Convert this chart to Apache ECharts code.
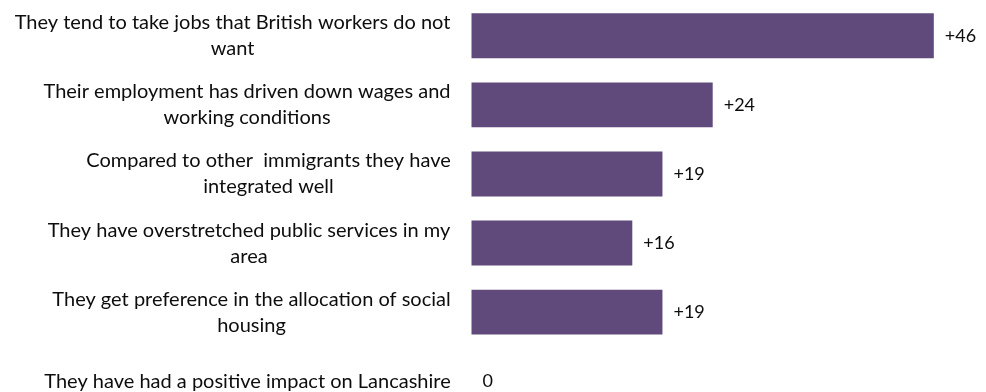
<!DOCTYPE html>
<html>
<head>
<meta charset="utf-8">
<script src="https://cdn.jsdelivr.net/npm/echarts@6/dist/echarts.min.js"></script>
<style>
  html, body { margin: 0; padding: 0; background: #ffffff; }
  #chart { width: 986px; height: 392px; }
</style>
</head>
<body>
<div id="chart"></div>
<script>
// Statement labels (top to bottom), wrapped onto two lines where needed
const categories = [
  'They tend to take jobs that British workers do not\nwant',
  'Their employment has driven down wages and\nworking conditions',
  'Compared to other  immigrants they have\nintegrated well',
  'They have overstretched public services in my\narea',
  'They get preference in the allocation of social\nhousing',
  'They have had a positive impact on Lancashire'
];

// Net score for each statement
const netScores = [46, 24, 19, 16, 19, 0];

const FONT = 'Lato';
const LABEL_SIZE = 20;

// Width of the widest line of a label, so each block can be centred
// line-by-line while its right edge stays against the axis.
const measureCtx = document.createElement('canvas').getContext('2d');
measureCtx.font = LABEL_SIZE + 'px ' + FONT;
function blockWidth(text) {
  return Math.max.apply(null, text.split('\n').map(function (line) {
    return measureCtx.measureText(line).width;
  }));
}

const chart = echarts.init(document.getElementById('chart'));

chart.setOption({
  animation: false,
  backgroundColor: '#ffffff',
  grid: {
    left: 471.5,
    right: 12,
    top: 1.2,
    bottom: -23.8,
    containLabel: false,
    outerBoundsMode: 'none'
  },
  xAxis: {
    type: 'value',
    min: 0,
    max: 50,
    show: false
  },
  yAxis: {
    type: 'category',
    inverse: true,
    data: categories.map(function (c) {
      return {
        value: c,
        textStyle: { align: 'center', padding: [0, Math.round(blockWidth(c)), 0, 0] }
      };
    }),
    axisLine: { show: false },
    axisTick: { show: false },
    splitLine: { show: false },
    axisLabel: {
      margin: 21,
      color: '#0d0d0d',
      fontFamily: FONT,
      fontSize: LABEL_SIZE,
      lineHeight: 26
    }
  },
  series: [{
    type: 'bar',
    data: netScores,
    barWidth: '65%',
    itemStyle: { color: '#5f4a7b' },
    label: {
      show: true,
      position: 'right',
      distance: 11,
      color: '#0d0d0d',
      fontFamily: FONT,
      fontSize: 18,
      formatter: function (p) {
        return p.value > 0 ? '+' + p.value : String(p.value);
      }
    }
  }]
});
</script>
</body>
</html>
